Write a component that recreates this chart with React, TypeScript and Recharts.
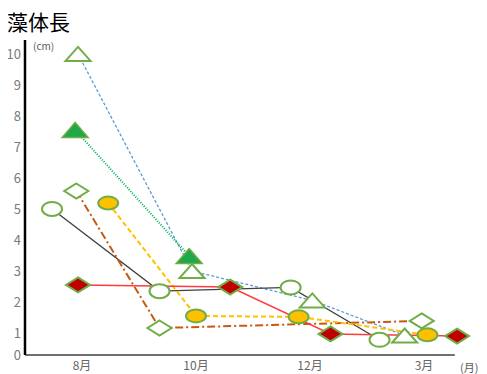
import React from 'react';
import { LineChart, Line, XAxis, YAxis, ReferenceLine } from 'recharts';

const monthLabels = ['8月', '10月', '12月', '3月'];
const monthTicks = [0.5, 1.5, 2.5, 3.5];
const yTicks = [0.29, 1, 2, 3, 4, 5, 6, 7, 8, 9, 10];

const openTriX = [0.465, 1.465, 2.52, 3.33];
const openTriY = [10, 3.0, 2.05, 0.92];
const filledTriX = [0.44, 1.44];
const filledTriY = [7.55, 3.48];
const openCircleX = [0.237, 1.18, 2.33, 3.11];
const openCircleY = [5.0, 2.35, 2.47, 0.78];
const openDiamondX = [0.45, 1.18, 3.48];
const openDiamondY = [5.58, 1.16, 1.39];
const yellowX = [0.73, 1.5, 2.4, 3.53];
const yellowY = [5.19, 1.55, 1.52, 0.94];
const redX = [0.465, 1.8, 2.68, 3.79];
const redY = [2.55, 2.48, 0.97, 0.9];

const toRows = (xs: number[], ys: number[]) => xs.map((x, i) => ({ x, y: ys[i] }));

const GREEN_EDGE = '#70AD47';
const FONT = '"Noto Sans CJK JP", "Noto Sans", sans-serif';

const tri = (w: number, h: number, fill: string, stroke: string, sw: number) => (p: any) => {
  const { cx, cy, index } = p;
  if (cx == null || cy == null) return <g key={`t${index}`} />;
  const pts = `${cx},${cy - h / 2} ${cx + w / 2},${cy + h / 2} ${cx - w / 2},${cy + h / 2}`;
  return <polygon key={`t${index}`} points={pts} fill={fill} stroke={stroke} strokeWidth={sw} />;
};
const ell = (rx: number, ry: number, fill: string, stroke: string, sw: number) => (p: any) => {
  const { cx, cy, index } = p;
  if (cx == null || cy == null) return <g key={`e${index}`} />;
  return <ellipse key={`e${index}`} cx={cx} cy={cy} rx={rx} ry={ry} fill={fill} stroke={stroke} strokeWidth={sw} />;
};
const dia = (w: number, h: number, fill: string, stroke: string, sw: number) => (p: any) => {
  const { cx, cy, index } = p;
  if (cx == null || cy == null) return <g key={`d${index}`} />;
  const pts = `${cx},${cy - h / 2} ${cx + w / 2},${cy} ${cx},${cy + h / 2} ${cx - w / 2},${cy}`;
  return <polygon key={`d${index}`} points={pts} fill={fill} stroke={stroke} strokeWidth={sw} />;
};

export default function App() {
  return (
    <div style={{ position: 'relative', width: 479, height: 366, fontFamily: FONT }}>
      <LineChart width={479} height={366} margin={{ top: 32, right: 6, bottom: 0, left: 0 }}>
        <XAxis
          type="number"
          dataKey="x"
          domain={[0, 4]}
          ticks={monthTicks}
          tickFormatter={(v: number) => monthLabels[monthTicks.indexOf(v)] ?? ''}
          axisLine={false}
          tickLine={false}
          tickSize={2}
          tickMargin={4}
          height={19}
          tick={{ fill: '#666666', fontSize: 12, fontFamily: FONT }}
          allowDuplicatedCategory={false}
        />
        <YAxis
          type="number"
          domain={[0.29, 10.45]}
          ticks={yTicks}
          tickFormatter={(v: number) => (v < 0.5 ? '0' : String(v))}
          width={17}
          axisLine={{ stroke: '#000000', strokeWidth: 2.5 }}
          tickLine={false}
          tickSize={2}
          tickMargin={2}
          interval={0}
          tick={{ fill: '#7a7a7a', fontSize: 13, fontFamily: FONT }}
          allowDataOverflow
        />
        <ReferenceLine
          segment={[{ x: 0, y: 0.29 }, { x: 3.77, y: 0.29 }]}
          stroke="#404040"
          strokeWidth={1.5}
          ifOverflow="visible"
        />
        <Line
          data={toRows(openTriX, openTriY)}
          dataKey="y"
          stroke="#5B9BD5"
          strokeWidth={1.3}
          strokeDasharray="3 2"
          dot={tri(25, 14, '#ffffff', GREEN_EDGE, 2)}
          activeDot={false}
          isAnimationActive={false}
        />
        <Line
          data={toRows(filledTriX, filledTriY)}
          dataKey="y"
          stroke="#00B050"
          strokeWidth={2}
          strokeDasharray="1 1.5"
          dot={tri(26, 15, '#1EA84A', GREEN_EDGE, 1.5)}
          activeDot={false}
          isAnimationActive={false}
        />
        <Line
          data={toRows(openCircleX, openCircleY)}
          dataKey="y"
          stroke="#404040"
          strokeWidth={1.3}
          dot={ell(10, 7, '#ffffff', GREEN_EDGE, 2)}
          activeDot={false}
          isAnimationActive={false}
        />
        <Line
          data={toRows(openDiamondX, openDiamondY)}
          dataKey="y"
          stroke="#C55A11"
          strokeWidth={2}
          strokeDasharray="8 3 2 3"
          dot={dia(24, 15, '#ffffff', GREEN_EDGE, 2)}
          activeDot={false}
          isAnimationActive={false}
        />
        <Line
          data={toRows(yellowX, yellowY)}
          dataKey="y"
          stroke="#FFC000"
          strokeWidth={2}
          strokeDasharray="5 3"
          dot={ell(10, 6.5, '#FFC000', GREEN_EDGE, 2)}
          activeDot={false}
          isAnimationActive={false}
        />
        <Line
          data={toRows(redX, redY)}
          dataKey="y"
          stroke="#FF3B3B"
          strokeWidth={1.5}
          dot={dia(24, 15, '#C00000', GREEN_EDGE, 2)}
          activeDot={false}
          isAnimationActive={false}
        />
      </LineChart>
      <div style={{ position: 'absolute', left: -1, top: 3, fontSize: 21, lineHeight: '21px', color: '#000', whiteSpace: 'nowrap' }}>藻体長</div>
      <div style={{ position: 'absolute', left: 25, top: 32, fontSize: 10, lineHeight: '12px', color: '#595959', whiteSpace: 'nowrap' }}>(cm)</div>
      <div style={{ position: 'absolute', left: 452, top: 352, fontSize: 11, lineHeight: '14px', color: '#595959', whiteSpace: 'nowrap' }}>(月)</div>
    </div>
  );
}
